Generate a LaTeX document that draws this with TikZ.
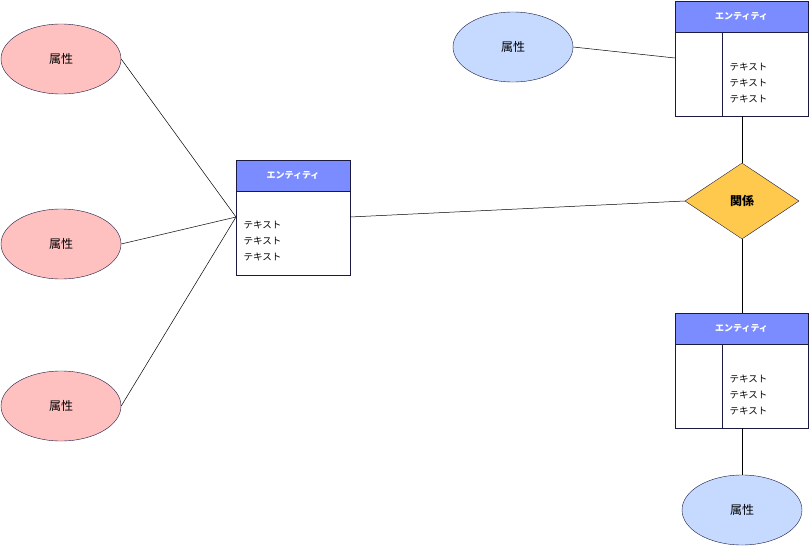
\documentclass[tikz,border=0pt]{standalone}
\usepackage{fontspec}
\setmainfont{Noto Sans CJK JP}
\usetikzlibrary{shapes.geometric}
\definecolor{pinkf}{HTML}{FFC0C0}
\definecolor{bluef}{HTML}{C6DAFF}
\definecolor{headf}{HTML}{7A8CFF}
\definecolor{diaf}{HTML}{FFC94D}
\definecolor{edge}{HTML}{1A1A40}
\begin{document}
\begin{tikzpicture}[x=1pt,y=-1pt,
  attr/.style={ellipse,draw=edge,minimum width=120pt,minimum height=70pt,inner sep=0pt,font=\fontsize{12}{14}\selectfont},
  pinkattr/.style={attr,fill=pinkf},
  blueattr/.style={attr,fill=bluef},
  body/.style={draw=edge,fill=white},
  head/.style={draw=edge,fill=headf},
  htext/.style={text=white,font=\bfseries\fontsize{9}{10}\selectfont},
  btext/.style={anchor=west,align=left,font=\fontsize{9.5}{16}\selectfont},
  ln/.style={draw=black,line width=0.5pt}]
\useasboundingbox (0,0) rectangle (809,546);
% entities
\draw[body] (236,191) rectangle (350,275);
\node[head,minimum width=114pt,minimum height=31pt,inner sep=0pt] (e1) at (293,175.5) {};
\node[htext] at (e1) {エンティティ};
\node[btext] (t1) at (240,241) {テキスト\\テキスト\\テキスト};
\coordinate (e1l) at (236,217); \coordinate (e1r) at (350,217);

\draw[body] (675,32) rectangle (808,116); \draw[edge] (722,32) -- (722,116);
\node[head,minimum width=133pt,minimum height=31pt,inner sep=0pt] (e2) at (741.5,16.5) {};
\node[htext] at (e2) {エンティティ};
\node[btext] (t2) at (726,83) {テキスト\\テキスト\\テキスト};
\coordinate (e2l) at (675,58); \coordinate (e2b) at (742,116);

\draw[body] (675,344) rectangle (808,428); \draw[edge] (722,344) -- (722,428);
\node[head,minimum width=133pt,minimum height=31pt,inner sep=0pt] (e3) at (741.5,328.5) {};
\node[htext] at (e3) {エンティティ};
\node[btext] (t3) at (726,395) {テキスト\\テキスト\\テキスト};
\coordinate (e3t) at (742,313); \coordinate (e3b) at (742,428);
% diamond
\node[diamond,draw=edge,fill=diaf,minimum width=114pt,minimum height=76pt,inner sep=0pt,aspect=1.5,font=\bfseries\fontsize{12}{14}\selectfont] (r) at (742,201) {関係};
% attributes
\node[pinkattr] (a1) at (61,59) {属性};
\node[pinkattr] (a2) at (61,244) {属性};
\node[pinkattr] (a3) at (61,406) {属性};
\node[blueattr] (b1) at (513,47) {属性};
\node[blueattr] (b2) at (742,510) {属性};
% connectors
\draw[ln] (a1.east) -- (e1l);
\draw[ln] (a2.east) -- (e1l);
\draw[ln] (a3.east) -- (e1l);
\draw[ln] (e1r) -- (r.west);
\draw[ln] (b1.east) -- (e2l);
\draw[ln] (e2b) -- (r.north);
\draw[ln] (r.south) -- (e3t);
\draw[ln] (e3b) -- (b2.north);
\end{tikzpicture}
\end{document}
